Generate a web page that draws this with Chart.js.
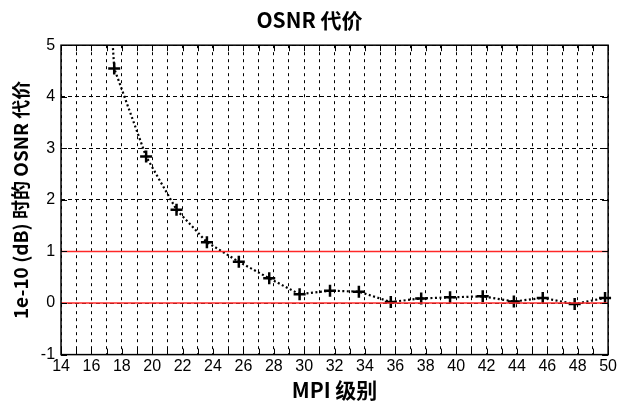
<!DOCTYPE html>
<html>
<head>
<meta charset="utf-8">
<script src="https://cdn.jsdelivr.net/npm/chart.js@4"></script>
<style>
  body { margin: 0; background: #fff; }
  #wrap { width: 619px; height: 405px; }
</style>
</head>
<body>
<div id="wrap"><canvas id="osnrChart"></canvas></div>
<script>
// MPI level (x) and OSNR penalty (y)
const mpiLevels = [15.5, 17.5, 19.6, 21.6, 23.6, 25.7, 27.7, 29.7, 31.7, 33.6, 35.7, 37.7, 39.6, 41.75, 43.8, 45.7, 47.8, 49.8];
const penalty = [14, 4.55, 2.84, 1.81, 1.18, 0.8, 0.48, 0.17, 0.24, 0.22, 0.02, 0.09, 0.11, 0.13, 0.03, 0.1, -0.02, 0.1];
const redLevels = [0, 1];
const xRange = [14, 50];
const yRange = [-1, 5];

const curve = mpiLevels.map((x, i) => ({ x, y: penalty[i] }));
// first point lies above the top of the plot, it only shapes the line
const pointSizes = mpiLevels.map((x, i) => (i === 0 ? 0 : 6));

const redSets = redLevels.map(level => ({
  data: xRange.map(x => ({ x, y: level })),
  borderColor: "rgb(255, 40, 40)",
  borderWidth: 1.5,
  pointRadius: 0,
  fill: false
}));

// small inward ticks on all four sides, like the original plot frame
const innerTicks = {
  id: "innerTicks",
  afterDraw(chart) {
    const { ctx, chartArea: a, scales } = chart;
    ctx.save();
    ctx.strokeStyle = "#000";
    ctx.lineWidth = 1;
    ctx.beginPath();
    for (let v = xRange[0]; v <= xRange[1]; v++) {
      const px = Math.round(scales.x.getPixelForValue(v)) + 0.5;
      ctx.moveTo(px, a.bottom); ctx.lineTo(px, a.bottom - 6);
      ctx.moveTo(px, a.top); ctx.lineTo(px, a.top + 6);
    }
    for (let v = yRange[0]; v <= yRange[1]; v++) {
      const py = Math.round(scales.y.getPixelForValue(v)) + 0.5;
      ctx.moveTo(a.left, py); ctx.lineTo(a.left + 6, py);
      ctx.moveTo(a.right, py); ctx.lineTo(a.right - 6, py);
    }
    ctx.stroke();
    ctx.lineWidth = 1.5;
    ctx.strokeRect(a.left, a.top, a.right - a.left, a.bottom - a.top);
    ctx.restore();
  }
};

const tickFont = { family: "'Liberation Sans', Arial, sans-serif", size: 16 };
const titleFont = { family: "'Noto Sans CJK SC', sans-serif", size: 21, weight: "bold" };

new Chart(document.getElementById("osnrChart"), {
  type: "line",
  data: {
    datasets: [
      ...redSets,
      {
        data: curve,
        borderColor: "#000",
        borderWidth: 2.2,
        borderDash: [2, 2.5],
        pointStyle: "cross",
        pointRadius: pointSizes,
        pointBorderWidth: 2.5,
        pointBorderColor: "#000",
        tension: 0,
        fill: false,
        clip: { left: 8, top: 0, right: 8, bottom: 8 }
      }
    ]
  },
  options: {
    responsive: true,
    maintainAspectRatio: false,
    animation: false,
    layout: { padding: { left: 9, right: 9, top: 2, bottom: 2 } },
    plugins: {
      legend: { display: false },
      tooltip: { enabled: false },
      title: {
        display: true,
        text: "OSNR 代价",
        color: "#000",
        font: titleFont,
        padding: { top: 5, bottom: 13 }
      }
    },
    scales: {
      x: {
        type: "linear",
        min: xRange[0],
        max: xRange[1],
        border: { display: false, dash: [3, 4] },
        grid: { color: "#000", lineWidth: 1, drawTicks: false },
        ticks: {
          stepSize: 1,
          autoSkip: false,
          maxRotation: 0,
          color: "#000",
          font: tickFont,
          padding: 2,
          callback: v => (v % 2 === 0 ? v : "")
        },
        title: { display: true, text: "MPI 级别", color: "#000", font: titleFont, padding: { top: 0, bottom: 0 } }
      },
      y: {
        min: yRange[0],
        max: yRange[1],
        border: { display: false, dash: [4, 3] },
        grid: { color: "#000", lineWidth: 1, drawTicks: false },
        ticks: { stepSize: 1, color: "#000", font: tickFont, padding: 6 },
        title: { display: true, text: "1e-10 (dB) 时的 OSNR 代价", color: "#000", font: { ...titleFont, size: 19 }, padding: { top: 0, bottom: 3 } }
      }
    }
  },
  plugins: [innerTicks]
});
</script>
</body>
</html>
